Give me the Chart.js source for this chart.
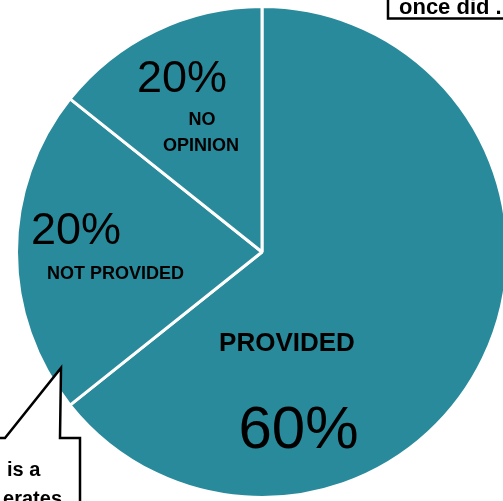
<!DOCTYPE html>
<html>
<head>
<meta charset="utf-8">
<script src="https://cdn.jsdelivr.net/npm/chart.js@4/dist/chart.umd.min.js"></script>
<style>
  html, body { margin: 0; padding: 0; background: #fff; overflow: hidden; }
  #wrap { position: absolute; left: 0; top: 0; width: 520px; height: 501px; }
</style>
</head>
<body>
<div id="wrap"><canvas id="c" width="520" height="501"></canvas></div>
<script>
// Data (slice angles ~231°, ~77°, ~51°)
const categories = ['PROVIDED', 'NOT PROVIDED', 'NO OPINION'];
const values = [9, 3, 2];
const percentLabels = ['60%', '20%', '20%'];
const calloutTopText = ['once did .'];
const calloutBottomText = ['is a', 'erates'];

const TEAL = '#288A9B';

const labelPlugin = {
  id: 'labels',
  afterDraw(chart) {
    const ctx = chart.ctx;
    const arc = chart.getDatasetMeta(0).data[0];
    const cx = arc.x, cy = arc.y;
    ctx.save();
    ctx.fillStyle = '#000';
    ctx.textAlign = 'center';
    ctx.textBaseline = 'middle';
    const pctFont = '45px "Liberation Sans", Arial, sans-serif';
    const catFont = 'bold 18px "Liberation Sans", Arial, sans-serif';

    // NO OPINION
    ctx.font = pctFont;
    ctx.fillText(percentLabels[2], cx - 80, cy - 172);
    ctx.font = catFont;
    const noOp = categories[2].split(' ');
    ctx.fillText(noOp[0], cx - 60, cy - 132);
    ctx.fillText(noOp[1], cx - 61, cy - 106);

    // NOT PROVIDED
    ctx.font = pctFont;
    ctx.fillText(percentLabels[1], cx - 186, cy - 20);
    ctx.font = catFont;
    ctx.fillText(categories[1], cx - 146.5, cy + 22);

    // PROVIDED
    ctx.font = 'bold 26px "Liberation Sans", Arial, sans-serif';
    ctx.fillText(categories[0], cx + 25, cy + 92);
    ctx.font = '60px "Liberation Sans", Arial, sans-serif';
    ctx.fillText(percentLabels[0], cx + 36.5, cy + 179);

    // Callout top-right
    ctx.lineWidth = 2.5;
    ctx.strokeStyle = '#000';
    ctx.fillStyle = '#fff';
    ctx.beginPath();
    ctx.rect(388, -10, 150, 28.5);
    ctx.fill();
    ctx.stroke();
    ctx.fillStyle = '#000';
    ctx.textAlign = 'left';
    ctx.textBaseline = 'alphabetic';
    ctx.font = 'bold 22px "Liberation Sans", Arial, sans-serif';
    ctx.fillText(calloutTopText[0], 399, 14);

    // Callout bottom-left
    ctx.fillStyle = '#fff';
    ctx.beginPath();
    ctx.moveTo(-10, 438);
    ctx.lineTo(5, 438);
    ctx.lineTo(61, 368);
    ctx.lineTo(60, 438);
    ctx.lineTo(80, 438);
    ctx.lineTo(80, 520);
    ctx.lineTo(-10, 520);
    ctx.closePath();
    ctx.fill();
    ctx.stroke();
    ctx.fillStyle = '#000';
    ctx.font = 'bold 20px "Liberation Sans", Arial, sans-serif';
    ctx.textAlign = 'left';
    ctx.fillText(calloutBottomText[0], 7, 476);
    ctx.textAlign = 'right';
    ctx.fillText(calloutBottomText[1], 62, 505);
    ctx.restore();
  }
};

new Chart(document.getElementById('c'), {
  type: 'pie',
  data: {
    labels: categories,
    datasets: [{
      data: values,
      backgroundColor: TEAL,
      borderColor: '#fff',
      borderWidth: 3,
      hoverOffset: 0
    }]
  },
  options: {
    responsive: false,
    devicePixelRatio: 1,
    animation: false,
    layout: { padding: { left: 15, top: 5, right: 11, bottom: 2 } },
    plugins: {
      legend: { display: false },
      tooltip: { enabled: false }
    }
  },
  plugins: [labelPlugin]
});
</script>
</body>
</html>
